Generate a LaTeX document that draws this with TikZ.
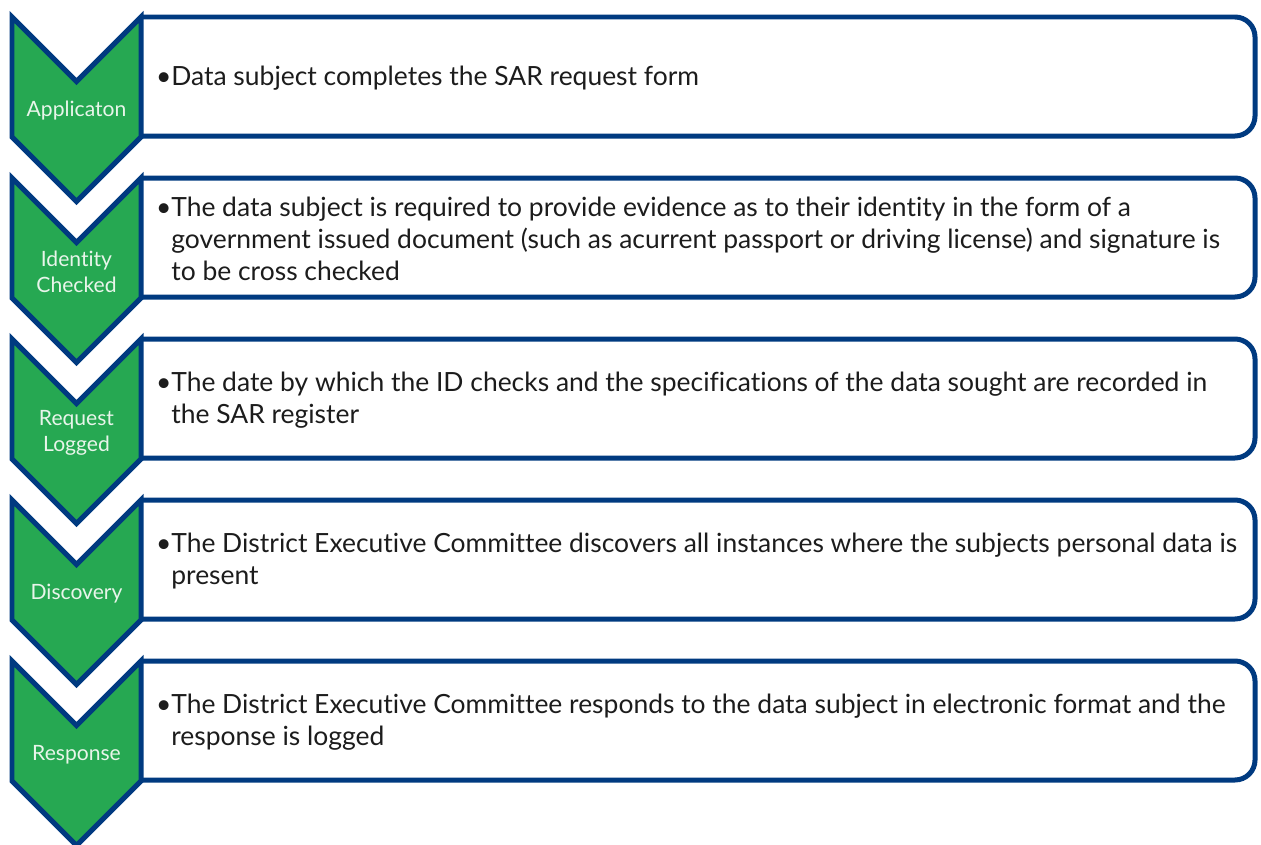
\documentclass[tikz,border=0pt]{standalone}
\usepackage{fontspec}
\setmainfont{Lato}[Ligatures={NoCommon}]
\definecolor{sarblue}{RGB}{0,58,128}
\definecolor{sargreen}{RGB}{38,168,82}
\definecolor{sarlabel}{RGB}{232,245,234}
\definecolor{sartext}{RGB}{28,28,28}
\begin{document}
\begin{tikzpicture}[x=0.02cm, y=-0.02cm, line join=miter,
		chev/.style={fill=sargreen, draw=sarblue, line width=0.1cm},
		panel/.style={draw=sarblue, line width=0.1cm, rounded corners=0.4cm},
		labtxt/.style={text=sarlabel, align=center, inner sep=0pt, font=\fontsize{12}{14.7}\selectfont},
		bodytxt/.style={text=sartext, align=left, anchor=west, inner sep=0pt, font=\fontsize{15.05}{18.4}\selectfont}]
				\useasboundingbox (0,0) rectangle (1261,845);
				\def\xl{12}\def\xm{76.5}\def\xr{141}\def\xe{1255}\def\dy{161}
				\foreach \k/\lab/\txt in {
					0/{Applicaton}/{\llap{•}Data subject completes the SAR request form},
					1/{Identity\\Checked}/{\llap{•}The data subject is required to provide evidence as to their identity in the form of a\\government issued document (such as acurrent passport or driving license) and signature is\\to be cross checked},
					2/{Request\\Logged}/{\llap{•}The date by which the ID checks and the specifications of the data sought are recorded in\\the SAR register},
					3/{Discovery}/{\llap{•}The District Executive Committee discovers all instances where the subjects personal data is\\present},
					4/{Response}/{\llap{•}The District Executive Committee responds to the data subject in electronic format and the\\response is logged}}{
					\pgfmathsetmacro\t{17+\dy*\k}
					\draw[panel] (\xr,\t) -- (\xe,\t) -- (\xe,\t+119) -- (\xr,\t+119);
					\draw[chev] (\xl,\t)--(\xm,\t+64.5)--(\xr,\t)--(\xr,\t+120)--(\xm,\t+184.5)--(\xl,\t+120)--cycle;
					\node[labtxt] (lab\k) at (\xm,\t+94) {\lab};
					\node[bodytxt] (txt\k) at (171,\t+61) {\txt};
				}
	\end{tikzpicture}
\end{document}
